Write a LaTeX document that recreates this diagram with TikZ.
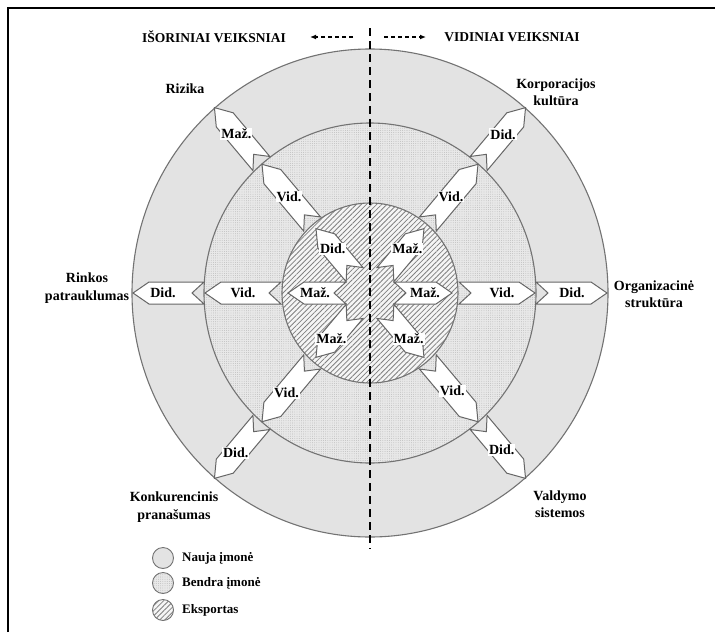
\documentclass[tikz,border=0pt]{standalone}
\usepackage{fontspec}
\setmainfont{Liberation Serif}
\usetikzlibrary{patterns.meta,arrows.meta,calc}
\begin{document}
\begin{tikzpicture}[x=1pt,y=1pt,
  ring/.style={draw=black!55,line width=1.1pt},
  arrowshape/.style={draw=black!60,fill=white,line width=1pt,line join=miter},
  lbl/.style={font=\bfseries\fontsize{14}{14}\selectfont,fill=white,inner sep=1pt},
  txt/.style={font=\bfseries\fontsize{14}{17.5}\selectfont,align=center,inner sep=0pt},
  hdr/.style={font=\bfseries\fontsize{13.5}{14}\selectfont,inner sep=0pt},
  legtxt/.style={font=\bfseries\fontsize{13}{14}\selectfont,anchor=west,inner sep=0pt},
  outerfill/.style={fill=black!11},
  midfill/.style={fill=black!9,postaction={pattern={Dots[distance=2.2pt,radius=0.4pt]},pattern color=black!32}},
  innfill/.style={fill=white!96!black,postaction={pattern={Lines[angle=45,distance=3.6pt,line width=0.8pt]},pattern color=black!50}},
  midline/.style={dash pattern=on 8pt off 5pt,line width=2.6pt},
  hdrarrow/.style={dash pattern=on 4pt off 3pt,line width=1.3pt,-{Latex[length=6pt,width=5pt]}}
]
\useasboundingbox (0,0) rectangle (715,-632);
% frame
\draw[line width=2.2pt] (8,-632) -- (8,-8) -- (715,-8);

\coordinate (O) at (370,-293);
% rings (slightly taller than wide, as in the reference)
\fill[outerfill] (O) ellipse[x radius=238,y radius=244];
\draw[ring] (O) ellipse[x radius=238,y radius=244];
\fill[midfill] (O) ellipse[x radius=166,y radius=170];
\draw[ring] (O) ellipse[x radius=166,y radius=170];
\fill[innfill] (O) ellipse[x radius=88,y radius=90];
\draw[ring] (O) ellipse[x radius=88,y radius=90];

\newcommand\blkarrow[3]{% angle, r1, r2
  \begin{scope}[shift={(O)},rotate=#1]
    \draw[arrowshape] (#2,11) -- ({#3-16},11) -- (#3,0) -- ({#3-16},-11) -- (#2,-11) -- ({#2+12},0) -- cycle;
  \end{scope}}

\foreach \a in {0,180}{
  \blkarrow{\a}{24}{82}
  \blkarrow{\a}{89}{165}
  \blkarrow{\a}{166}{237}
}
\foreach \a in {50,130,230,310}{
  \blkarrow{\a}{24}{84}
  \blkarrow{\a}{90}{168}
  \blkarrow{\a}{169}{242}
}

% inner ring labels
\node[lbl] (i130) at ($(O)+(130:58)$) {Did.};
\node[lbl] (i50)  at ($(O)+(50:58)$)  {Maž.};
\node[lbl] (i180) at ($(O)+(180:55)$) {Maž.};
\node[lbl] (i0)   at ($(O)+(0:55)$)   {Maž.};
\node[lbl] (i230) at ($(O)+(230:60)$) {Maž.};
\node[lbl] (i310) at ($(O)+(310:60)$) {Maž.};
% middle ring labels
\node[lbl] (m130) at ($(O)+(130:126)$) {Vid.};
\node[lbl] (m50)  at ($(O)+(50:126)$)  {Vid.};
\node[lbl] (m180) at ($(O)+(180:127)$) {Vid.};
\node[lbl] (m0)   at ($(O)+(0:132)$)   {Vid.};
\node[lbl] (m230) at ($(O)+(230:130)$) {Vid.};
\node[lbl] (m310) at ($(O)+(310:128)$) {Vid.};
% outer ring labels
\node[lbl] (o130) at ($(O)+(130:208)$) {Maž.};
\node[lbl] (o50)  at ($(O)+(50:207)$)  {Did.};
\node[lbl] (o180) at ($(O)+(180:207)$) {Did.};
\node[lbl] (o0)   at ($(O)+(0:202)$)   {Did.};
\node[lbl] (o230) at ($(O)+(230:209)$) {Did.};
\node[lbl] (o310) at ($(O)+(310:205)$) {Did.};

% factor names
\node[txt] (rizika) at (185,-89) {Rizika};
\node[txt] (korp) at (556,-92) {Korporacijos\\kultūra};
\node[txt] (rinkos) at (87,-288) {Rinkos\\patrauklumas};
\node[txt] (org) at (654,-294) {Organizacinė\\struktūra};
\node[txt] (konk) at (174,-507) {Konkurencinis\\pranašumas};
\node[txt] (vald) at (560,-504) {Valdymo\\sistemos};

% headers
\node[hdr] (isor) at (214,-37) {IŠORINIAI VEIKSNIAI};
\node[hdr] (vid) at (512,-37) {VIDINIAI VEIKSNIAI};
\coordinate (la) at (353,-37);
\coordinate (lb) at (310,-37);
\coordinate (ra) at (384,-37);
\coordinate (rb) at (426,-37);
\draw[hdrarrow] (la) -- (lb);
\draw[hdrarrow] (ra) -- (rb);

% dividing line
\coordinate (top) at (370,-28);
\coordinate (bot) at (370,-549);
\draw[midline] (top) -- (bot);

% legend
\coordinate (L1) at (163,-558);
\coordinate (L2) at (163,-583);
\coordinate (L3) at (163,-610);
\fill[outerfill] (L1) circle[radius=10.5];
\draw[ring,line width=0.9pt] (L1) circle[radius=10.5];
\fill[midfill] (L2) circle[radius=10.5];
\draw[ring,line width=0.9pt] (L2) circle[radius=10.5];
\fill[innfill] (L3) circle[radius=10.5];
\draw[ring,line width=0.9pt] (L3) circle[radius=10.5];
\node[legtxt] (n1) at (182,-558) {Nauja įmonė};
\node[legtxt] (n2) at (182,-583) {Bendra įmonė};
\node[legtxt] (n3) at (182,-610) {Eksportas};
\end{tikzpicture}
\end{document}
